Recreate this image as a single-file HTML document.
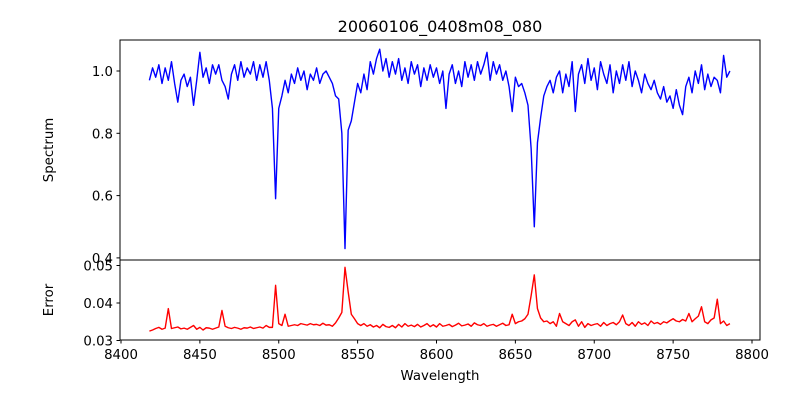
<!DOCTYPE html>
<html><head><meta charset="utf-8"><style>
html,body{margin:0;padding:0;background:#fff;}
svg{display:block;font-family:"DejaVu Sans","Liberation Sans",sans-serif;}
</style></head><body>
<svg id="chart" width="800" height="400" viewBox="0 0 800 400" xmlns="http://www.w3.org/2000/svg">
<rect x="0" y="0" width="800" height="400" fill="#fff"/>
<text x="440" y="32" font-size="16" text-anchor="middle">20060106_0408m08_080</text>
<g id="top"></g><g id="bot"></g>
<text transform="translate(53,150) rotate(-90)" font-size="13.3" text-anchor="middle">Spectrum</text>
<text transform="translate(53,300) rotate(-90)" font-size="13.3" text-anchor="middle">Error</text>
<text x="440" y="380" font-size="13.3" text-anchor="middle">Wavelength</text>
</svg>
<script>
const WAVE_START = 8418;
const WAVE_STEP = 2;
const spectrum = [0.97,1.01,0.98,1.02,0.96,1.01,0.97,1.03,0.96,0.90,
0.97,0.99,0.95,0.98,0.89,0.97,1.06,0.98,1.01,0.96,
1.02,0.99,1.02,0.97,0.95,0.91,0.99,1.02,0.97,1.03,
0.98,1.01,0.99,1.03,0.97,1.02,0.98,1.03,0.97,0.88,
0.59,0.88,0.92,0.97,0.93,0.99,0.96,1.01,0.97,1.0,
0.94,0.99,0.97,1.01,0.96,0.99,1.0,0.98,0.96,0.92,
0.91,0.80,0.43,0.81,0.84,0.90,0.96,0.93,0.99,0.94,
1.03,0.99,1.04,1.07,1.0,1.04,0.98,1.03,0.99,1.04,
0.97,1.01,0.96,1.03,0.99,1.02,0.95,1.01,0.97,1.02,
0.98,1.01,0.96,1.0,0.88,0.99,1.02,0.96,1.0,0.95,
1.03,0.98,1.02,0.97,1.03,0.99,1.02,1.06,0.97,1.03,
0.99,1.02,0.97,1.0,0.95,0.87,0.98,0.95,0.96,0.93,
0.89,0.75,0.50,0.77,0.85,0.92,0.95,0.97,0.93,0.98,
1.0,0.93,0.99,0.95,1.03,0.87,0.99,1.02,0.96,1.04,
0.97,1.01,0.94,1.03,0.99,0.96,1.02,0.93,1.0,0.96,
1.02,0.97,1.03,0.95,1.0,0.97,0.93,0.99,0.96,0.94,
0.97,0.93,0.91,0.95,0.90,0.92,0.88,0.94,0.89,0.86,
0.95,0.98,0.93,1.0,0.96,1.02,0.94,0.99,0.95,0.98,
0.97,0.93,1.05,0.98,1.0];
const errorVals = [.0325,.0328,.0332,.0335,.0330,.0333,.0385,.0332,.0334,.0336,
.0331,.0333,.0330,.0335,.0340,.0330,.0335,.0328,.0334,.0333,
.0330,.0333,.0336,.0380,.0338,.0334,.0332,.0335,.0333,.0330,
.0334,.0333,.0336,.0332,.0334,.0336,.0333,.0340,.0335,.0335,
.0447,.0345,.0340,.0370,.0338,.0340,.0342,.0340,.0345,.0343,
.0341,.0345,.0342,.0343,.0340,.0346,.0341,.0342,.0338,.0347,
.0360,.0375,.0495,.0430,.0370,.0358,.0345,.0340,.0345,.0338,
.0342,.0336,.0340,.0334,.0343,.0337,.0335,.0340,.0334,.0343,
.0336,.0345,.0338,.0341,.0337,.0343,.0336,.0340,.0345,.0337,
.0342,.0336,.0345,.0338,.0340,.0343,.0337,.0341,.0346,.0339,
.0341,.0344,.0338,.0347,.0342,.0340,.0345,.0338,.0341,.0343,
.0338,.0342,.0346,.0340,.0342,.0370,.0345,.0350,.0352,.0358,
.0370,.0420,.0475,.0385,.0360,.0350,.0352,.0345,.0350,.0338,
.0372,.0350,.0345,.0340,.0350,.0355,.0338,.0350,.0335,.0345,
.0340,.0343,.0345,.0338,.0348,.0340,.0345,.0348,.0342,.0350,
.0368,.0345,.0340,.0348,.0338,.0350,.0343,.0347,.0340,.0352,
.0345,.0348,.0343,.0350,.0347,.0353,.0358,.0352,.0350,.0356,
.0352,.0372,.0350,.0358,.0365,.0390,.0350,.0345,.0355,.0360,
.0410,.0345,.0352,.0340,.0345];
const xTicks = [8400,8450,8500,8550,8600,8650,8700,8750,8800];
const topYTicks = [0.4,0.6,0.8,1.0];
const topYLabels = ["0.4","0.6","0.8","1.0"];
const botYTicks = [0.03,0.04,0.05];
const botYLabels = ["0.03","0.04","0.05"];

const NS="http://www.w3.org/2000/svg";
const L=120,R=760;
const xScale = w => 121 + (w-8400)*(631/400);
const yTop = v => 71 - (v-1.0)*(62.3/0.2);
const yBot = v => 340.5 - (v-0.03)*3750;
function mk(tag, parent){const e=document.createElementNS(NS,tag);parent.appendChild(e);return e;}
const svg=document.getElementById('chart');
const gT=document.getElementById('top'), gB=document.getElementById('bot');

// series
const ptsS=spectrum.map((v,i)=>xScale(WAVE_START+i*WAVE_STEP).toFixed(2)+','+yTop(v).toFixed(2)).join(' ');
const lS=mk('polyline',gT);


lS.setAttribute('points',ptsS);lS.setAttribute('fill','none');lS.setAttribute('stroke','#0000ff');lS.setAttribute('stroke-width','1.4');lS.setAttribute('stroke-linejoin','round');
const ptsE=errorVals.map((v,i)=>xScale(WAVE_START+i*WAVE_STEP).toFixed(2)+','+yBot(v).toFixed(2)).join(' ');
const lE=mk('polyline',gB);


lE.setAttribute('points',ptsE);lE.setAttribute('fill','none');lE.setAttribute('stroke','#ff0000');lE.setAttribute('stroke-width','1.4');lE.setAttribute('stroke-linejoin','round');

// frames
const f1=mk('rect',svg);


f1.setAttribute('x',L);f1.setAttribute('y',40);f1.setAttribute('width',R-L);f1.setAttribute('height',220);f1.setAttribute('fill','none');f1.setAttribute('stroke','#000');f1.setAttribute('stroke-width','1');
const f2=mk('rect',svg);


f2.setAttribute('x',L);f2.setAttribute('y',260);f2.setAttribute('width',R-L);f2.setAttribute('height',80);f2.setAttribute('fill','none');f2.setAttribute('stroke','#000');f2.setAttribute('stroke-width','1');

// ticks
xTicks.forEach(t=>{
  const x=xScale(t);
  const ln=mk('line',svg);
  
  
  ln.setAttribute('x1',x);ln.setAttribute('x2',x);ln.setAttribute('y1',340);ln.setAttribute('y2',343.5);ln.setAttribute('stroke','#000');
  const tx=mk('text',svg);
  
  
  tx.setAttribute('x',x);tx.setAttribute('y',359);tx.setAttribute('font-size','13.3');tx.setAttribute('text-anchor','middle');tx.textContent=String(t);
});
topYTicks.forEach((t,i)=>{
  const y=yTop(t);
  const ln=mk('line',svg);
  
  
  ln.setAttribute('x1',116.5);ln.setAttribute('x2',120);ln.setAttribute('y1',y);ln.setAttribute('y2',y);ln.setAttribute('stroke','#000');
  const tx=mk('text',svg);
  
  
  tx.setAttribute('x',113);tx.setAttribute('y',y+5);tx.setAttribute('font-size','13.3');tx.setAttribute('text-anchor','end');tx.textContent=topYLabels[i];
});
botYTicks.forEach((t,i)=>{
  const y=yBot(t);
  const ln=mk('line',svg);
  
  
  ln.setAttribute('x1',116.5);ln.setAttribute('x2',120);ln.setAttribute('y1',y);ln.setAttribute('y2',y);ln.setAttribute('stroke','#000');
  const tx=mk('text',svg);
  
  
  tx.setAttribute('x',113);tx.setAttribute('y',y+5);tx.setAttribute('font-size','13.3');tx.setAttribute('text-anchor','end');tx.textContent=botYLabels[i];
});
</script>
</body></html>
